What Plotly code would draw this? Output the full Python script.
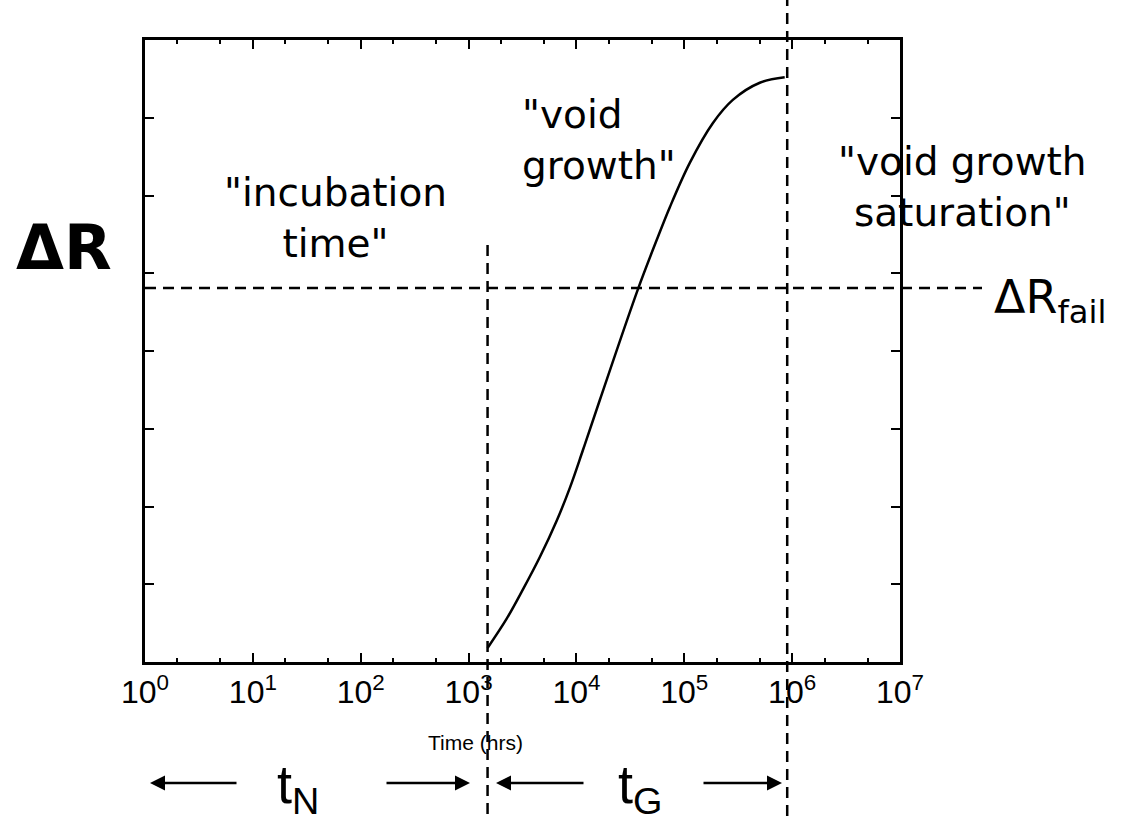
import numpy as np
import plotly.graph_objects as go

# ---- data ----
time_hrs = [1500, 2265, 3184, 4581, 6577, 8690, 11455, 16480, 37070,
            55590, 73450, 112460, 183650, 281800, 501200, 853100]
delta_r = [0.18, 0.56, 0.93, 1.35, 1.82, 2.24, 2.72, 3.37, 4.79,
           5.43, 5.85, 6.42, 6.93, 7.23, 7.45, 7.52]
x_tick_vals = [1, 10, 100, 1000, 10000, 100000, 1000000, 10000000]
x_tick_text = ["10<sup>0</sup>", "10<sup>1</sup>", "10<sup>2</sup>", "10<sup>3</sup>",
               "10<sup>4</sup>", "10<sup>5</sup>", "10<sup>6</sup>", "10<sup>7</sup>"]
t_nucleation = 1500
t_saturation = 900000
delta_r_fail = 4.81

W, H = 1130, 821
L, R, T, B = 145, 900, 40, 662
FONT = "Arial, Liberation Sans, Helvetica, sans-serif"
WIDE = "DejaVu Sans, Verdana, sans-serif"


def px(xp):
    return (xp - L) / (R - L)


def py(yp):
    return (B - yp) / (B - T)


fig = go.Figure()
fig.add_trace(go.Scatter(x=time_hrs, y=delta_r, mode="lines",
                         line=dict(color="black", width=2.5, shape="spline", smoothing=1.0),
                         showlegend=False, hoverinfo="skip"))

dash = "11px,7px"
shapes = [
    dict(type="line", xref="x", yref="paper", x0=t_nucleation, x1=t_nucleation,
         y0=py(245), y1=py(H + 5), line=dict(color="black", width=2.5, dash=dash)),
    dict(type="line", xref="x", yref="paper", x0=t_saturation, x1=t_saturation,
         y0=py(-5), y1=py(H + 5), line=dict(color="black", width=2.5, dash=dash)),
    dict(type="line", xref="paper", yref="y", x0=0, x1=px(982),
         y0=delta_r_fail, y1=delta_r_fail, line=dict(color="black", width=2.5, dash=dash)),
]

annotations = []


def txt(text, xp, yp, size, xanchor="center", align="center", bold=False, family=FONT):
    annotations.append(dict(text=("<b>%s</b>" % text) if bold else text,
                            x=px(xp), y=py(yp), xref="paper", yref="paper",
                            xanchor=xanchor, yanchor="middle", align=align,
                            showarrow=False, font=dict(family=family, size=size, color="black")))


txt("ΔR", 64, 247, 62, bold=True, family=WIDE)
txt("ΔR<sub>fail</sub>", 992, 300, 46, xanchor="left", family=WIDE)
txt("\"incubation<br>time\"", 335, 218, 39, family=WIDE)
txt("\"void<br>growth\"", 520, 140, 39, xanchor="left", align="left", family=WIDE)
txt("\"void growth<br>saturation\"", 962, 187, 39, family=WIDE)
txt("Time (hrs)", 475, 742, 21)
txt("t<sub>N</sub>", 298, 788, 54)
txt("t<sub>G</sub>", 640, 788, 54)


def arrow(head_x, tail_x, yp):
    annotations.append(dict(text="", x=px(head_x), y=py(yp), xref="paper", yref="paper",
                            ax=tail_x - head_x, ay=0, axref="pixel", ayref="pixel",
                            showarrow=True, arrowhead=2, arrowsize=1.2, arrowwidth=2.5,
                            arrowcolor="black"))


arrow(150, 238, 783)
arrow(470, 385, 783)
arrow(496, 585, 783)
arrow(782, 702, 783)

fig.update_layout(
    width=W, height=H,
    margin=dict(l=L, r=W - R, t=T, b=H - B),
    paper_bgcolor="white", plot_bgcolor="white",
    shapes=shapes, annotations=annotations,
    font=dict(family=FONT, color="black"),
)
fig.update_xaxes(type="log", range=[0, 7], tickvals=x_tick_vals, ticktext=x_tick_text,
                 ticks="inside", ticklen=9, tickwidth=2, tickcolor="black",
                 showline=True, linecolor="black", linewidth=2.5, mirror="ticks",
                 showgrid=False, zeroline=False,
                 tickfont=dict(family=FONT, size=32, color="black"),
                 minor=dict(ticks="inside", ticklen=4, tickcolor="black", showgrid=False))
fig.update_yaxes(range=[0, 8], dtick=1, showticklabels=False,
                 ticks="inside", ticklen=9, tickwidth=2, tickcolor="black",
                 showline=True, linecolor="black", linewidth=2.5, mirror="ticks",
                 showgrid=False, zeroline=False)

fig.write_html("out.html")
